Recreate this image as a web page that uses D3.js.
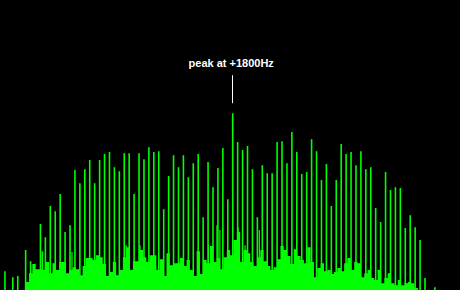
<!DOCTYPE html>
<html>
<head>
<meta charset="utf-8">
<script src="https://cdn.jsdelivr.net/npm/d3@7"></script>
<style>
  html, body { margin: 0; padding: 0; background: #000; }
  svg { display: block; }
</style>
</head>
<body>
<svg width="460" height="290"></svg>
<script>
window.onload = function() {

var svg = d3.select("svg");
var width  = +svg.attr("width");
var height = +svg.attr("height");

var spikeColor = "#00ff00";

// spectral lines: frequency (Hz) and level (dB)
var spikeHz = [
    -510, -430, -380, -300, -250, -150, -130, -100, -50, 0, 50, 100, 150,
    200, 250, 300, 350, 400, 450, 500, 550, 600, 650, 700, 750, 800, 850,
    900, 950, 1000, 1050, 1100, 1150, 1200, 1250, 1300, 1350, 1400, 1450,
    1500, 1550, 1600, 1650, 1700, 1750, 1800, 1850, 1900, 1950, 2000, 2050,
    2100, 2150, 2200, 2250, 2300, 2350, 2400, 2450, 2500, 2550, 2600, 2650,
    2700, 2750, 2800, 2850, 2900, 2950, 3000, 3050, 3100, 3150, 3200, 3250,
    3300, 3350, 3400, 3450, 3500, 3550, 3600, 3650, 3700, 3750, 3850
];
var spikeDb = [
    -67.8, -69.3, -69.0, -62.5, -65.3, -56.0, -62.8, -59.3, -51.5, -52.8, -48.5, -58.0, -56.3,
    -42.5, -45.8, -42.3, -40.0, -45.8, -40.0, -38.5, -38.0, -41.8, -42.8, -38.3, -38.3, -48.5, -38.3,
    -39.8, -36.8, -38.0, -37.8, -52.3, -44.0, -38.8, -41.8, -38.8, -44.3, -40.8, -38.5,
    -54.3, -40.5, -46.8, -42.0, -37.0, -49.8, -28.3, -35.5, -37.5, -36.5, -42.3, -54.3,
    -41.3, -43.3, -43.3, -35.5, -35.3, -40.8, -33.0, -38.0, -43.5, -43.0, -34.8, -37.8,
    -45.0, -41.0, -51.5, -45.0, -36.0, -38.5, -38.0, -41.3, -37.8, -42.3, -41.8, -52.0,
    -55.5, -43.0, -47.5, -46.8, -47.0, -57.0, -53.8, -56.8, -60.0, -69.5, -71.8
];

// weaker lines between the main ones
var minorHz = [170, 720, 860, 1555, 1640, 1670, 1855, 1925, 2070];
var minorDb = [-63.0, -61.3, -61.3, -61.3, -56.3, -57.5, -56.8, -61.3, -57.5];

// noise floor, sampled every floorStepHz from floorStartHz (dB)
var floorStartHz = -300;
var floorStepHz = 34;
var floorDb = [
    -70.5, -68.3, -66.0, -67.3, -67.3, -67.5, -65.5, -68.3, -65.8, -67.5,
    -65.5, -65.5, -68.3, -67.5, -66.8, -67.3, -68.8, -66.5, -64.5, -64.5,
    -65.0, -63.8, -64.3, -66.0, -69.0, -68.0, -65.5, -68.8, -67.5, -64.3,
    -61.8, -67.5, -65.3, -65.3, -62.5, -64.3, -65.5, -63.8, -63.8, -67.5,
    -64.8, -69.0, -63.3, -66.3, -65.8, -65.8, -64.5, -66.5, -65.0, -67.5,
    -69.0, -62.8, -68.5, -65.0, -65.8, -61.5, -65.5, -64.5, -67.3, -64.3,
    -62.5, -63.8, -60.0, -58.0, -65.5, -62.5, -63.3, -65.5, -66.5, -64.3,
    -62.5, -65.3, -66.5, -67.5, -66.8, -64.8, -61.5, -62.5, -64.0, -66.0,
    -62.3, -64.0, -65.0, -65.8, -61.8, -65.5, -69.3, -67.0, -65.8, -67.8,
    -67.5, -68.5, -68.0, -67.0, -67.8, -65.8, -64.5, -67.5, -65.5, -65.8,
    -69.3, -68.3, -67.5, -69.5, -70.0, -67.5, -70.8, -69.5, -68.3, -70.8,
    -71.3, -70.0, -71.3, -70.8, -70.5, -70.8, -72.0, -72.5, -72.5
];

var peakHz = 1800;
var peakLabel = "peak at +1800Hz";

var x = d3.scaleLinear()
    .domain([-560, 4105])
    .range([0, width]);

var y = d3.scaleLinear()
    .domain([-72.5, 0])
    .range([height, 0]);

svg.append("rect")
    .attr("width", width)
    .attr("height", height)
    .attr("fill", "#000");

var floorPoints = floorDb.map(function(d, i) { return [floorStartHz + i * floorStepHz, d]; });

var area = d3.area()
    .curve(d3.curveStepAfter)
    .x(function(d) { return x(d[0]); })
    .y0(height)
    .y1(function(d) { return y(d[1]); });

// Render floor
svg.append("path")
    .datum(floorPoints)
    .attr("fill", spikeColor)
    .attr("d", area);

function drawLines(cls, hz, db, w) {
    var data = hz.map(function(f, i) { return [f, db[i]]; });
    svg.selectAll("." + cls)
        .data(data)
        .enter().append("line")
        .attr("class", cls)
        .attr("x1", function(d) { return x(d[0]); })
        .attr("x2", function(d) { return x(d[0]); })
        .attr("y1", height)
        .attr("y2", function(d) { return y(d[1]); })
        .attr("stroke", spikeColor)
        .attr("stroke-width", w);
}

// Render spikes
drawLines("minor", minorHz, minorDb, 1.2);
drawLines("spike", spikeHz, spikeDb, 1.6);

// Annotation
var peakIndex = spikeHz.indexOf(peakHz);
var peakX = x(peakHz);
var peakY = y(spikeDb[peakIndex]);

svg.append("line")
    .attr("x1", Math.round(peakX) - 0.5)
    .attr("x2", Math.round(peakX) - 0.5)
    .attr("y1", peakY - 10)
    .attr("y2", peakY - 38)
    .attr("stroke", "#fff")
    .attr("stroke-width", 1);

svg.append("text")
    .attr("x", peakX - 1.5)
    .attr("y", peakY - 46)
    .attr("text-anchor", "middle")
    .attr("fill", "#fff")
    .style("font-family", "'Liberation Sans', Arial, sans-serif")
    .style("font-weight", "bold")
    .style("font-size", "11px")
    .text(peakLabel);

}
</script>
</body>
</html>
